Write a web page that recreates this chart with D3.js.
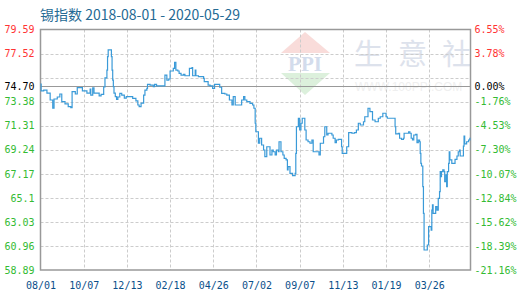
<!DOCTYPE html>
<html>
<head>
<meta charset="utf-8">
<script src="https://cdn.jsdelivr.net/npm/d3@7"></script>
<style>
  body { margin: 0; background: #fff; }
  svg { display: block; }
</style>
</head>
<body>
<div id="chart"></div>
<script>
// 锡指数 daily values
const dates = [
  "2018-08-01","2018-08-02","2018-08-06","2018-08-11","2018-08-16","2018-08-20","2018-08-22","2018-08-27","2018-08-31",
  "2018-09-03","2018-09-08","2018-09-13","2018-09-17","2018-09-19","2018-09-24","2018-09-27","2018-10-05","2018-10-12",
  "2018-10-17","2018-10-18","2018-10-21","2018-10-23","2018-10-31","2018-11-03","2018-11-07","2018-11-09","2018-11-12",
  "2018-11-13","2018-11-14","2018-11-19","2018-11-20","2018-11-21","2018-11-22","2018-11-23","2018-11-25","2018-11-27",
  "2018-11-29","2018-12-02","2018-12-05","2018-12-09","2018-12-12","2018-12-22","2018-12-27","2018-12-30","2019-01-01",
  "2019-01-04","2019-01-08","2019-01-10","2019-01-13","2019-01-14","2019-01-18","2019-01-23","2019-01-25","2019-01-28",
  "2019-02-10","2019-02-13","2019-02-16","2019-02-18","2019-02-23","2019-02-25","2019-02-27","2019-03-02","2019-03-04",
  "2019-03-07","2019-03-11","2019-03-13","2019-03-20","2019-03-24","2019-03-25","2019-03-29","2019-03-30","2019-04-03",
  "2019-04-11","2019-04-12","2019-04-18","2019-04-21","2019-04-25","2019-04-28","2019-05-06","2019-05-09","2019-05-14",
  "2019-05-17","2019-05-21","2019-05-25","2019-05-27","2019-05-30","2019-06-09","2019-06-12","2019-06-14","2019-06-17",
  "2019-06-22","2019-06-26","2019-06-28","2019-06-30","2019-07-01","2019-07-05","2019-07-07","2019-07-10","2019-07-13",
  "2019-07-15","2019-07-18","2019-07-23","2019-07-26","2019-07-28","2019-07-31","2019-08-02","2019-08-05","2019-08-06",
  "2019-08-09","2019-08-12","2019-08-14","2019-08-17","2019-08-19","2019-08-20","2019-08-23","2019-08-27","2019-08-31",
  "2019-09-01","2019-09-02","2019-09-05","2019-09-07","2019-09-09","2019-09-11","2019-09-15","2019-09-17","2019-09-20",
  "2019-09-23","2019-09-26","2019-09-28","2019-10-07","2019-10-09","2019-10-14","2019-10-16","2019-10-19","2019-10-21",
  "2019-10-27","2019-10-29","2019-11-01","2019-11-03","2019-11-06","2019-11-11","2019-11-12","2019-11-19","2019-11-22",
  "2019-11-27","2019-12-01","2019-12-04","2019-12-07","2019-12-10","2019-12-15","2019-12-17","2019-12-22","2019-12-25",
  "2019-12-29","2020-01-02","2020-01-07","2020-01-10","2020-01-14","2020-01-19","2020-01-21","2020-02-02","2020-02-03",
  "2020-02-07","2020-02-09","2020-02-12","2020-02-15","2020-02-16","2020-02-23","2020-02-25","2020-02-27","2020-02-29",
  "2020-03-02","2020-03-05","2020-03-07","2020-03-09","2020-03-11","2020-03-12","2020-03-13","2020-03-14","2020-03-16",
  "2020-03-17","2020-03-18","2020-03-23","2020-03-25","2020-03-29","2020-03-30","2020-03-31","2020-04-01","2020-04-05",
  "2020-04-07","2020-04-09","2020-04-11","2020-04-12","2020-04-13","2020-04-14","2020-04-16","2020-04-18","2020-04-19",
  "2020-04-21","2020-04-22","2020-04-23","2020-04-25","2020-04-26","2020-04-27","2020-04-30","2020-05-05","2020-05-08",
  "2020-05-10","2020-05-12","2020-05-13","2020-05-18","2020-05-19","2020-05-20","2020-05-23","2020-05-26","2020-05-28",
  "2020-05-29"
];
const values = [
  74.90,74.30,74.38,74.12,73.52,72.83,73.61,73.78,74.04,
  73.38,73.18,72.95,72.86,74.24,74.04,74.58,74.30,74.12,
  74.47,73.95,74.56,74.12,73.87,74.01,74.64,75.42,76.10,
  77.25,77.83,77.25,76.10,75.24,74.67,74.12,73.81,73.58,
  73.78,74.10,73.95,73.69,73.81,73.67,73.44,73.09,72.95,
  73.26,73.95,74.38,74.53,74.87,74.81,74.67,74.87,74.73,
  75.67,75.24,75.33,76.02,76.25,76.77,76.10,76.02,75.82,
  75.67,75.73,75.61,76.25,76.30,75.61,76.10,75.61,75.53,
  75.39,75.10,74.81,74.73,74.51,74.87,74.62,74.10,74.04,
  73.95,73.52,73.09,73.81,73.09,73.52,73.81,73.52,73.38,
  73.24,73.09,72.81,71.52,70.79,69.80,70.23,69.65,69.22,
  68.64,69.50,68.79,69.22,69.07,68.79,69.22,69.07,69.93,
  69.07,68.79,68.50,68.36,67.50,67.78,67.21,67.01,67.21,
  68.93,71.22,71.95,70.94,71.52,71.95,70.94,70.08,69.93,
  69.80,70.08,69.07,68.79,69.80,70.36,71.22,70.51,70.66,
  70.51,70.23,69.85,70.08,70.14,69.50,68.93,69.50,70.71,
  70.66,70.71,70.94,71.52,71.37,71.65,72.08,72.81,72.52,
  71.80,71.65,71.95,72.08,72.38,72.08,71.95,71.22,70.60,
  70.66,70.23,70.14,70.23,70.66,70.79,70.66,70.23,70.08,
  70.51,70.57,69.85,70.08,69.93,68.93,68.07,67.84,66.06,
  63.77,60.61,61.04,62.62,62.33,64.05,64.49,63.77,64.34,
  64.05,65.06,65.63,67.35,66.92,67.35,67.50,67.35,66.49,
  67.07,66.06,67.35,68.07,69.07,68.36,68.07,68.42,68.70,
  69.07,69.22,68.70,69.56,70.42,69.74,69.93,70.08,70.23,
  70.23
];

const baseValue = 74.70;
const gridValues = [79.59,77.52,75.45,73.38,71.31,69.24,67.17,65.10,63.03,60.96,58.89];
const leftLabels = ["79.59","77.52","74.70","73.38","71.31","69.24","67.17","65.1","63.03","60.96","58.89"];
const labelValues = [79.59,77.52,74.70,73.38,71.31,69.24,67.17,65.10,63.03,60.96,58.89];
const rightLabels = ["6.55%","3.78%","0.00%","-1.76%","-4.53%","-7.30%","-10.07%","-12.84%","-15.62%","-18.39%","-21.16%"];
const xTickDates = ["2018-08-01","2018-10-07","2018-12-13","2019-02-18","2019-04-26","2019-07-02",
                    "2019-09-07","2019-11-13","2020-01-19","2020-03-26"];

const width = 520, height = 300;
const plotL = 40.5, plotR = 470.5, plotT = 29.5, plotB = 270;

const parse = d3.utcParse("%Y-%m-%d");
const data = dates.map((d, i) => ({date: parse(d), value: values[i]}));

const x = d3.scaleUtc()
  .domain([parse("2018-08-01"), parse("2020-05-29")])
  .range([plotL, plotR]);
const y = d3.scaleLinear()
  .domain([58.89, 79.59])
  .range([plotB, plotT]);

const svg = d3.select("#chart").append("svg")
  .attr("width", width)
  .attr("height", height);

// title
svg.append("text")
  .attr("x", 40).attr("y", 20)
  .style("font-family", "'Noto Sans CJK SC', sans-serif")
  .style("font-size", "14px")
  .style("fill", "#256a94")
  .text("锡指数 2018-08-01 - 2020-05-29");

// watermark
const wm = svg.append("g");
wm.append("polygon").attr("points", "281,53 305,32 330,53").style("fill", "#f9dcda");
wm.append("polygon").attr("points", "281,73 330,73 305,95").style("fill", "#dcf0dc");
wm.append("text").attr("x", 305).attr("y", 71).attr("text-anchor", "middle")
  .style("font-family", "'Liberation Serif', serif").style("font-weight", "bold")
  .style("font-size", "21px").style("fill", "#d3dcec").text("PPI");
const brand = wm.append("text").attr("y", 65)
  .style("font-family", "'Noto Sans CJK SC', sans-serif")
  .style("font-size", "29px")
  .style("fill", "#dde2ec");
brand.selectAll("tspan").data(["生", "意", "社"])
  .enter().append("tspan")
    .attr("x", (d, i) => 354 + i * 44)
    .text(d => d);
wm.append("text").attr("x", 355).attr("y", 91)
  .style("font-family", "'Liberation Sans', sans-serif")
  .style("font-size", "12px").style("fill", "#efefef").text("WWW.100PPI.COM");

// grid
svg.append("g").selectAll("line").data(gridValues.slice(1, -1))
  .enter().append("line")
    .attr("x1", plotL).attr("x2", plotR)
    .attr("y1", d => Math.round(y(d)) + 0.5).attr("y2", d => Math.round(y(d)) + 0.5)
    .style("stroke", "#cccccc").style("stroke-dasharray", "3,2");
svg.append("g").selectAll("line").data(xTickDates.slice(1))
  .enter().append("line")
    .attr("x1", d => Math.round(x(parse(d))) + 0.5).attr("x2", d => Math.round(x(parse(d))) + 0.5)
    .attr("y1", plotT).attr("y2", plotB)
    .style("stroke", "#cccccc").style("stroke-dasharray", "3,2");

// base line
svg.append("line")
  .attr("x1", plotL).attr("x2", plotR)
  .attr("y1", Math.round(y(baseValue)) + 0.5).attr("y2", Math.round(y(baseValue)) + 0.5)
  .style("stroke", "#999999");

// frame
svg.append("rect")
  .attr("x", plotL).attr("y", plotT)
  .attr("width", plotR - plotL).attr("height", plotB - plotT)
  .style("fill", "none").style("stroke", "#999999").style("stroke-width", 1.5);

// line
const line = d3.line()
  .x(d => x(d.date))
  .y(d => y(d.value))
  .curve(d3.curveStepAfter);
svg.append("path").datum(data)
  .attr("d", line)
  .style("fill", "none")
  .style("stroke", "#3a9ad8")
  .style("stroke-width", 1.2);

const labelColor = v => v > baseValue ? "#ff3333" : (v === baseValue ? "#000000" : "#33bb33");

// left axis
const yLeft = d3.axisLeft(y)
  .tickValues(labelValues)
  .tickSize(0).tickPadding(6)
  .tickFormat((d, i) => leftLabels[i]);
svg.append("g").attr("transform", `translate(${plotL},0)`).call(yLeft)
  .call(g => g.select(".domain").remove())
  .selectAll("text")
    .style("font-family", "'DejaVu Sans Mono', monospace")
    .style("font-size", "10px")
    .style("fill", d => labelColor(d));

// right axis
const yRight = d3.axisRight(y)
  .tickValues(labelValues)
  .tickSize(0).tickPadding(4)
  .tickFormat((d, i) => rightLabels[i]);
svg.append("g").attr("transform", `translate(${plotR},0)`).call(yRight)
  .call(g => g.select(".domain").remove())
  .selectAll("text")
    .style("font-family", "'DejaVu Sans Mono', monospace")
    .style("font-size", "10px")
    .style("fill", d => labelColor(d));

// bottom axis
const xAxis = d3.axisBottom(x)
  .tickValues(xTickDates.map(parse))
  .tickSize(0).tickPadding(12)
  .tickFormat(d3.utcFormat("%m/%d"));
svg.append("g").attr("transform", `translate(0,${plotB})`).call(xAxis)
  .call(g => g.select(".domain").remove())
  .selectAll("text")
    .style("font-family", "'DejaVu Sans Mono', monospace")
    .style("font-size", "10px")
    .style("fill", "#0b4f8a");
</script>
</body>
</html>
